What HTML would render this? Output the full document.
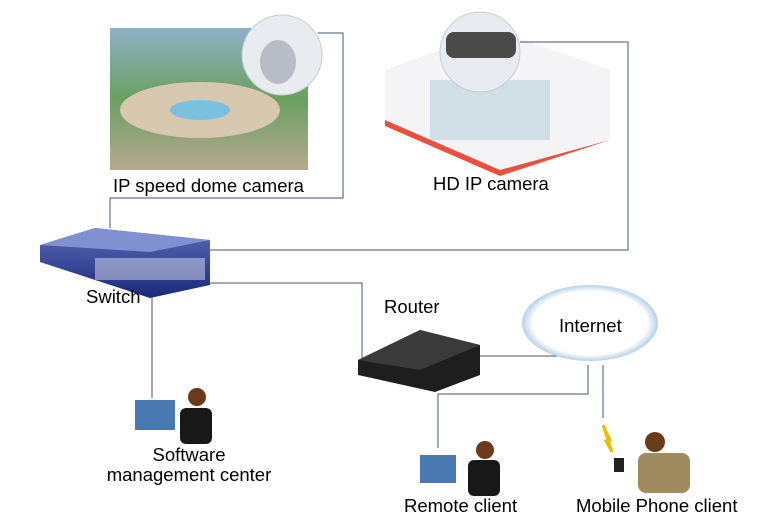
<!DOCTYPE html>
<html><head><style>
body{margin:0;background:#fff;}
.w{position:relative;width:773px;height:528px;overflow:hidden;background:#fff;font-family:"Liberation Sans",sans-serif;}
.t{position:absolute;font-size:18.5px;color:#000;white-space:nowrap;}
</style></head><body><div class="w">
<svg width="773" height="528" style="position:absolute;left:0;top:0">
<defs>
<linearGradient id="sq" x1="0" y1="0" x2="0" y2="1"><stop offset="0" stop-color="#8fb0c8"/><stop offset="0.5" stop-color="#6aa060"/><stop offset="1" stop-color="#b8a890"/></linearGradient>
<radialGradient id="cl" cx="0.5" cy="0.5" r="0.6"><stop offset="0.7" stop-color="#fff"/><stop offset="1" stop-color="#5a94cc"/></radialGradient>
<linearGradient id="sw" x1="0" y1="0" x2="0" y2="1"><stop offset="0" stop-color="#5a6ab8"/><stop offset="1" stop-color="#1a2a78"/></linearGradient>
</defs>
<rect x="110" y="28" width="198" height="142" fill="url(#sq)"/>
<ellipse cx="200" cy="110" rx="80" ry="28" fill="#d8c8b0"/>
<ellipse cx="200" cy="110" rx="30" ry="10" fill="#7cc0e0"/>
<circle cx="282" cy="55" r="40" fill="#e8ecf0" stroke="#c8ccd0"/>
<ellipse cx="278" cy="62" rx="18" ry="22" fill="#b8bcc4"/>
<polygon points="385,70 495,30 610,70 610,140 500,170 385,120" fill="#f4f4f6"/>
<polygon points="385,120 500,170 610,140 500,176 385,126" fill="#e85040"/>
<rect x="430" y="80" width="120" height="60" fill="#b8d0dc" opacity="0.6"/>
<circle cx="480" cy="52" r="40" fill="#e8ecf0" stroke="#c8ccd0"/>
<rect x="446" y="32" width="70" height="26" rx="8" fill="#4a4a4a"/>
<g fill="none" stroke="#3f5475" stroke-width="1">
<polyline points="110,228 110,198 343,198 343,33 318,33"/>
<polyline points="520,42 628,42 628,250 208,250"/>
<polyline points="205,283 362,283 362,372"/>
<polyline points="152,295 152,398"/>
<polyline points="475,356 557,356"/>
<polyline points="588,365 588,394 438,394 438,448"/>
<polyline points="603,365 603,418"/>
</g>
<polygon points="40,245 95,228 210,240 210,285 150,298 40,262" fill="url(#sw)"/>
<polygon points="40,245 95,228 210,240 150,252" fill="#8090d0"/>
<rect x="95" y="258" width="110" height="22" fill="#dde" opacity="0.5"/>
<polygon points="358,360 420,330 480,345 480,375 435,392 358,375" fill="#1e1e1e"/>
<polygon points="358,360 420,330 480,345 420,370" fill="#3a3a3a"/>
<ellipse cx="590" cy="323" rx="68" ry="38" fill="url(#cl)"/>
<rect x="135" y="400" width="40" height="30" fill="#4a78b0"/>
<circle cx="197" cy="397" r="9" fill="#6a3a1a"/>
<rect x="180" y="408" width="32" height="36" rx="6" fill="#181818"/>
<rect x="420" y="455" width="36" height="28" fill="#4a78b0"/>
<circle cx="485" cy="450" r="9" fill="#6a3a1a"/>
<rect x="468" y="460" width="32" height="36" rx="6" fill="#181818"/>
<polygon points="603,425 610,440 606,441 612,452" fill="none" stroke="#e8c000" stroke-width="3"/>
<circle cx="655" cy="442" r="10" fill="#6a3a1a"/>
<rect x="638" y="453" width="52" height="40" rx="8" fill="#a08a60"/>
<rect x="614" y="458" width="10" height="14" fill="#222"/>
</svg>
<div class="t" style="left:113px;top:175px">IP speed dome camera</div>
<div class="t" style="left:433px;top:173px">HD IP camera</div>
<div class="t" style="left:86px;top:286px">Switch</div>
<div class="t" style="left:384px;top:296px">Router</div>
<div class="t" style="left:559px;top:315px">Internet</div>
<div class="t" style="left:96px;top:445px;text-align:center;width:186px;line-height:20px">Software<br>management center</div>
<div class="t" style="left:404px;top:495px">Remote client</div>
<div class="t" style="left:576px;top:495px">Mobile Phone client</div>
</div></body></html>
